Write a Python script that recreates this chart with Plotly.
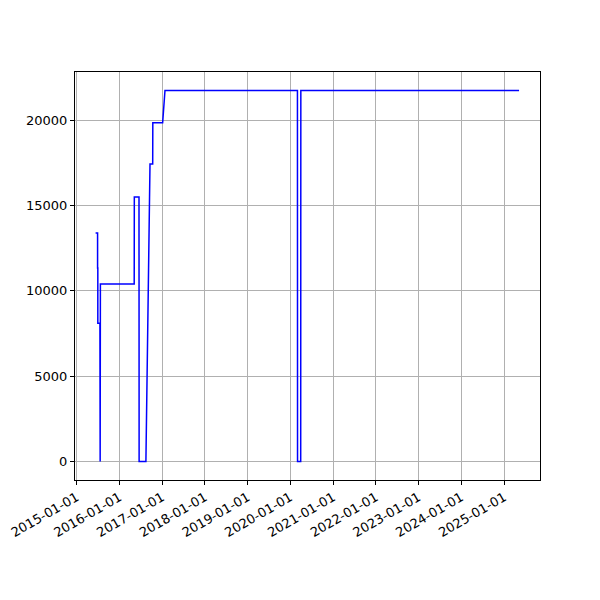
import plotly.graph_objects as go

dates = ["2015-06-12", "2015-06-29", "2015-06-29", "2015-07-01", "2015-07-01",
         "2015-07-19", "2015-07-21", "2015-07-23", "2016-05-07", "2016-05-08",
         "2016-06-17", "2016-06-18", "2016-08-15", "2016-09-19", "2016-10-12",
         "2016-10-13", "2017-01-05", "2017-01-25", "2020-03-02", "2020-03-03",
         "2020-03-30", "2020-03-31", "2025-05-09"]
values = [13380, 13380, 11330, 11330, 8100,
          8100, 0, 10390, 10390, 15490,
          15490, 0, 0, 17430, 17430,
          19840, 19840, 21730, 21730, 0,
          0, 21730, 21730]

tick_years = [f"{y}-01-01" for y in range(2015, 2026)]
y_ticks = [0, 5000, 10000, 15000, 20000]

fig = go.Figure(go.Scatter(x=dates, y=values, mode="lines",
                           line=dict(color="#0000ff", width=1.5)))

axis_common = dict(showline=True, linecolor="black", linewidth=1, mirror=True,
                   ticks="outside", ticklen=4, tickcolor="black", automargin=False,
                   showgrid=True, gridcolor="#b0b0b0", gridwidth=1, zeroline=False,
                   tickfont=dict(family="DejaVu Sans", size=13, color="black"))

fig.update_layout(
    width=600, height=600,
    margin=dict(l=67, r=68, t=64, b=128),
    paper_bgcolor="white", plot_bgcolor="white",
    showlegend=False,
    xaxis=dict(type="date", range=["2014-12-18", "2025-11-04"],
               tickvals=tick_years, ticktext=tick_years, tickangle=-30,
               **axis_common),
    yaxis=dict(range=[-1086, 22817], tickvals=y_ticks,
               ticktext=[str(v) for v in y_ticks], **axis_common),
)

fig.write_html("out.html")
